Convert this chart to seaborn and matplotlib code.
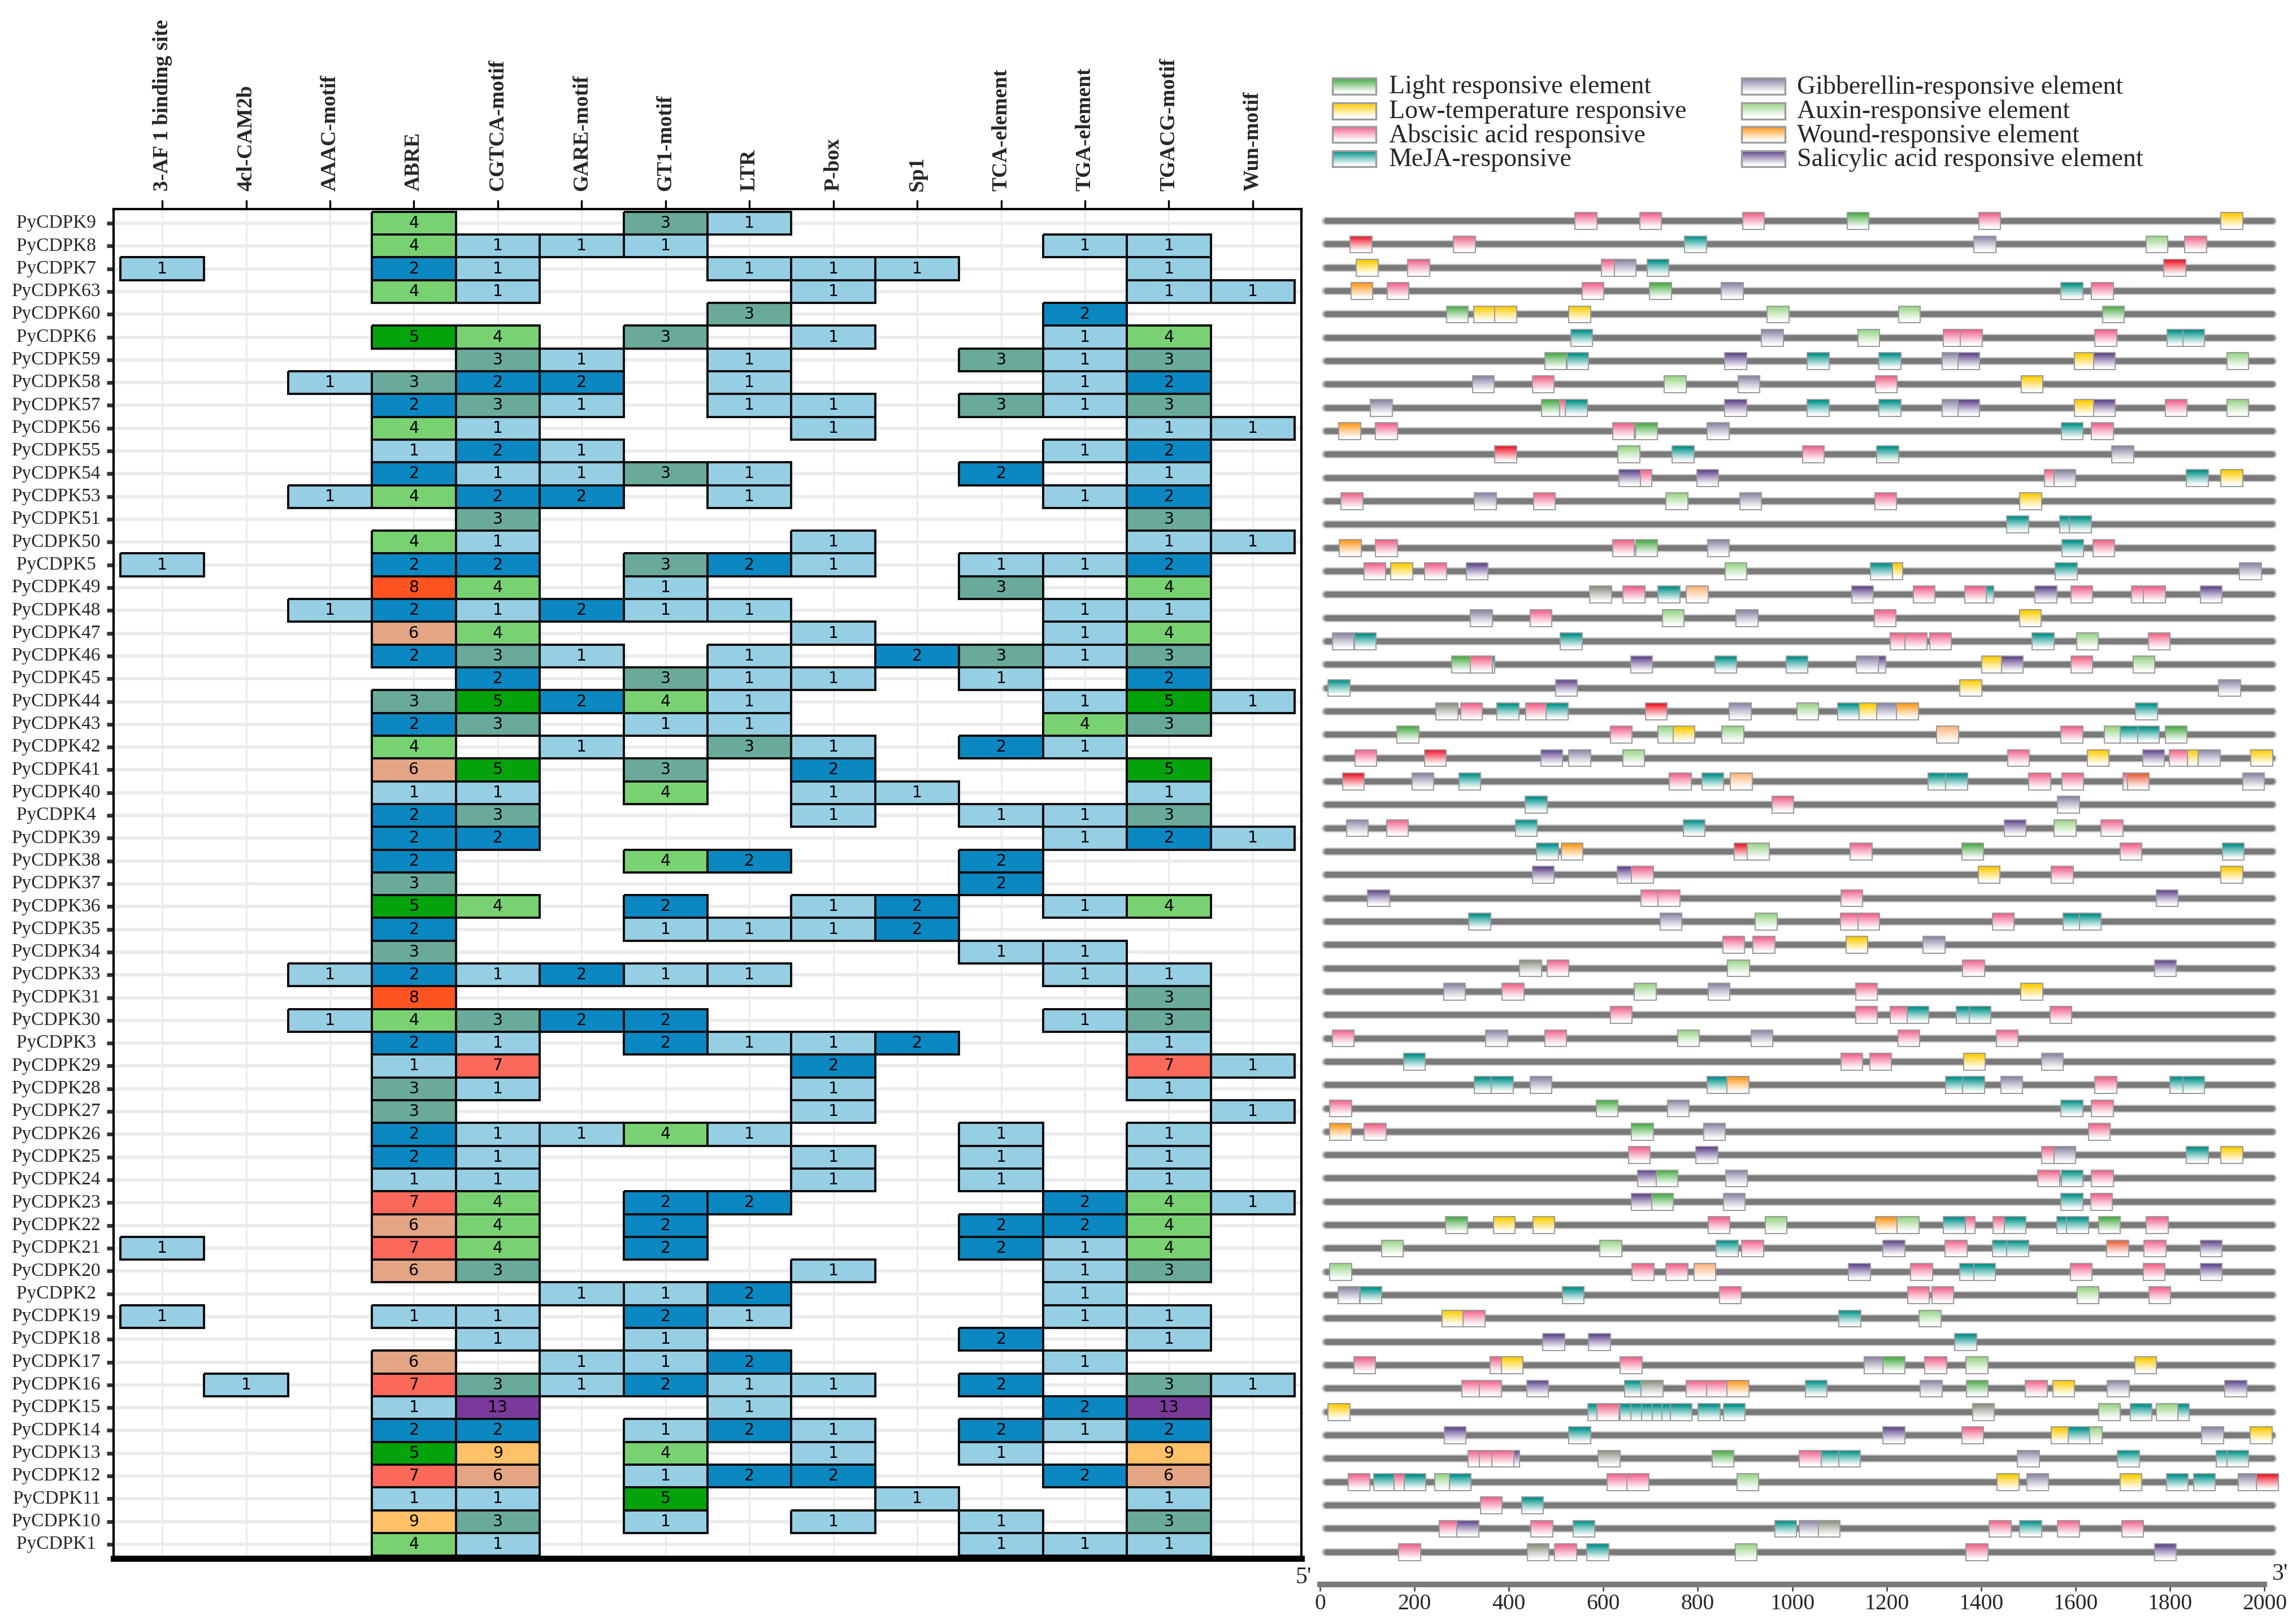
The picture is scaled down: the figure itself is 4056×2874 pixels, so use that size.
import numpy as np
import pandas as pd
import matplotlib
matplotlib.use("Agg")
import matplotlib.pyplot as plt
from matplotlib.colors import ListedColormap, BoundaryNorm, to_rgb
from matplotlib.patches import Rectangle
import seaborn as sns

# ---------------- data: heatmap of cis-element counts ----------------
genes = ["PyCDPK9 ", "PyCDPK8 ", "PyCDPK7 ", "PyCDPK63", "PyCDPK60", "PyCDPK6 ", "PyCDPK59", "PyCDPK58",
         "PyCDPK57", "PyCDPK56", "PyCDPK55", "PyCDPK54", "PyCDPK53", "PyCDPK51", "PyCDPK50", "PyCDPK5 ",
         "PyCDPK49", "PyCDPK48", "PyCDPK47", "PyCDPK46", "PyCDPK45", "PyCDPK44", "PyCDPK43", "PyCDPK42",
         "PyCDPK41", "PyCDPK40", "PyCDPK4 ", "PyCDPK39", "PyCDPK38", "PyCDPK37", "PyCDPK36", "PyCDPK35",
         "PyCDPK34", "PyCDPK33", "PyCDPK31", "PyCDPK30", "PyCDPK3 ", "PyCDPK29", "PyCDPK28", "PyCDPK27",
         "PyCDPK26", "PyCDPK25", "PyCDPK24", "PyCDPK23", "PyCDPK22", "PyCDPK21", "PyCDPK20", "PyCDPK2 ",
         "PyCDPK19", "PyCDPK18", "PyCDPK17", "PyCDPK16", "PyCDPK15", "PyCDPK14", "PyCDPK13", "PyCDPK12",
         "PyCDPK11", "PyCDPK10", "PyCDPK1 "]

elements = ["3-AF 1 binding site", "4cl-CAM2b", "AAAC-motif", "ABRE", "CGTCA-motif", "GARE-motif",
            "GT1-motif", "LTR", "P-box", "Sp1", "TCA-element", "TGA-element", "TGACG-motif", "Wun-motif"]

af1 = [0,0,1,0,0,0,0,0,0,0, 0,0,0,0,0,1,0,0,0,0, 0,0,0,0,0,0,0,0,0,0,
       0,0,0,0,0,0,0,0,0,0, 0,0,0,0,0,1,0,0,1,0, 0,0,0,0,0,0,0,0,0]
cam2b = [0,0,0,0,0,0,0,0,0,0, 0,0,0,0,0,0,0,0,0,0, 0,0,0,0,0,0,0,0,0,0,
         0,0,0,0,0,0,0,0,0,0, 0,0,0,0,0,0,0,0,0,0, 0,1,0,0,0,0,0,0,0]
aaac = [0,0,0,0,0,0,0,1,0,0, 0,0,1,0,0,0,0,1,0,0, 0,0,0,0,0,0,0,0,0,0,
        0,0,0,1,0,1,0,0,0,0, 0,0,0,0,0,0,0,0,0,0, 0,0,0,0,0,0,0,0,0]
abre = [4,4,2,4,0,5,0,3,2,4, 1,2,4,0,4,2,8,2,6,2, 0,3,2,4,6,1,2,2,2,3,
        5,2,3,2,8,4,2,1,3,3, 2,2,1,7,6,7,6,0,1,0, 6,7,1,2,5,7,1,9,4]
cgtca = [0,1,1,1,0,4,3,2,3,1, 2,1,2,3,1,2,4,1,4,3, 2,5,3,0,5,1,3,2,0,0,
         4,0,0,1,0,3,1,7,1,0, 1,1,1,4,4,4,3,0,1,1, 0,3,13,2,9,6,1,3,1]
gare = [0,1,0,0,0,0,1,2,1,0, 1,1,2,0,0,0,0,2,0,1, 0,2,0,1,0,0,0,0,0,0,
        0,0,0,2,0,2,0,0,0,0, 1,0,0,0,0,0,0,1,0,0, 1,1,0,0,0,0,0,0,0]
gt1 = [3,1,0,0,0,3,0,0,0,0, 0,3,0,0,0,3,1,1,0,0, 3,4,1,0,3,4,0,0,4,0,
       2,1,0,1,0,2,2,0,0,0, 4,0,0,2,2,2,0,1,2,1, 1,2,0,1,4,1,5,1,0]
ltr = [1,0,1,0,3,0,1,1,1,0, 0,1,1,0,0,2,0,1,0,1, 1,1,1,3,0,0,0,0,2,0,
       0,1,0,1,0,0,1,0,0,0, 1,0,0,2,0,0,0,2,1,0, 2,1,1,2,0,2,0,0,0]
pbox = [0,0,1,1,0,1,0,0,1,1, 0,0,0,0,1,1,0,0,1,0, 1,0,0,1,2,1,1,0,0,0,
        1,1,0,0,0,0,1,2,1,1, 0,1,1,0,0,0,1,0,0,0, 0,1,0,1,1,2,0,1,0]
sp1 = [0,0,1,0,0,0,0,0,0,0, 0,0,0,0,0,0,0,0,0,2, 0,0,0,0,0,1,0,0,0,0,
       2,2,0,0,0,0,2,0,0,0, 0,0,0,0,0,0,0,0,0,0, 0,0,0,0,0,0,1,0,0]
tca = [0,0,0,0,0,0,3,0,3,0, 0,2,0,0,0,1,3,0,0,3, 1,0,0,2,0,0,1,0,2,2,
       0,0,1,0,0,0,0,0,0,0, 1,1,1,0,2,2,0,0,0,2, 0,2,0,2,1,0,0,1,1]
tga = [0,1,0,0,2,1,1,1,1,0, 1,0,1,0,0,1,0,1,1,1, 0,1,4,1,0,0,1,1,0,0,
       1,0,1,1,0,1,0,0,0,0, 0,0,0,2,2,1,1,1,1,0, 1,0,2,1,0,2,0,0,1]
tgacg = [0,1,1,1,0,4,3,2,3,1, 2,1,2,3,1,2,4,1,4,3, 2,5,3,0,5,1,3,2,0,0,
         4,0,0,1,3,3,1,7,1,0, 1,1,1,4,4,4,3,0,1,1, 0,3,13,2,9,6,1,3,1]
wun = [0,0,0,1,0,0,0,0,0,1, 0,0,0,0,1,0,0,0,0,0, 0,1,0,0,0,0,0,1,0,0,
       0,0,0,0,0,0,0,1,0,1, 0,0,0,1,0,0,0,0,0,0, 0,1,0,0,0,0,0,0,0]

count_levels = [1, 2, 3, 4, 5, 6, 7, 8, 9, 13]
count_colors = ["#96CEE4", "#0B87C2", "#69AA9B", "#79D272", "#04A20B",
                "#E3A583", "#FA695A", "#FF5322", "#FFC167", "#7A3A9B"]

# ---------------- data: promoter element positions (bp) ----------------
site_pos = [
    [563, 700, 918, 1139, 1418, 1931],
    [87, 306, 795, 1408, 1772, 1854],
    [100, 209, 619, 646, 716, 1810],
    [89, 165, 578, 721, 873, 1592, 1657],
    [291, 349, 393, 550, 970, 1248, 1680],
    [554, 958, 1162, 1343, 1379, 1664, 1817, 1850],
    [499, 546, 880, 1055, 1207, 1340, 1374, 1620, 1661, 1943],
    [346, 473, 752, 908, 1199, 1508],
    [130, 492, 530, 543, 880, 1055, 1207, 1340, 1374, 1620, 1661, 1813, 1943],
    [63, 141, 643, 691, 843, 1593, 1657],
    [393, 654, 769, 1045, 1202, 1700],
    [679, 656, 821, 1557, 1577, 1858, 1931],
    [68, 350, 475, 756, 912, 1198, 1505],
    [1477, 1590, 1610],
    [64, 141, 643, 692, 844, 1594, 1660],
    [116, 173, 245, 333, 881, 1211, 1189, 1580, 1970],
    [594, 665, 739, 799, 1149, 1279, 1404, 1388, 1537, 1613, 1741, 1767, 1887],
    [342, 468, 748, 904, 1197, 1504],
    [49, 96, 532, 1231, 1262, 1314, 1531, 1625, 1777],
    [347, 302, 342, 681, 859, 1010, 1175, 1159, 1424, 1466, 1613, 1745],
    [40, 522, 1378, 1926],
    [269, 321, 398, 459, 502, 712, 890, 1033, 1119, 1165, 1202, 1244, 1750],
    [186, 638, 739, 771, 874, 1329, 1592, 1684, 1717, 1754, 1813],
    [97, 244, 491, 550, 664, 1479, 1648, 1765, 1822, 1860, 1883, 1994],
    [71, 218, 317, 763, 832, 892, 1311, 1348, 1524, 1594, 1724, 1733, 1977],
    [458, 980, 1585],
    [79, 164, 437, 792, 1472, 1578, 1677],
    [482, 534, 900, 928, 1146, 1382, 1717, 1934],
    [473, 652, 683, 1417, 1572, 1931],
    [124, 703, 739, 1126, 1794],
    [338, 743, 945, 1125, 1162, 1447, 1597, 1631],
    [876, 940, 1137, 1300],
    [446, 504, 886, 1384, 1790],
    [285, 409, 689, 845, 1157, 1507],
    [638, 1157, 1231, 1266, 1371, 1398, 1569],
    [49, 374, 499, 780, 936, 1247, 1455],
    [200, 1126, 1187, 1386, 1551],
    [350, 386, 468, 843, 885, 1348, 1384, 1465, 1664, 1823, 1850],
    [44, 608, 759, 1592, 1657],
    [43, 117, 683, 835, 1650],
    [676, 819, 1551, 1577, 1858, 1931],
    [696, 735, 882, 1543, 1593, 1657],
    [683, 725, 877, 1592, 1655],
    [289, 390, 474, 845, 966, 1199, 1245, 1364, 1343, 1448, 1472, 1583, 1604, 1672, 1773],
    [153, 616, 862, 916, 1215, 1347, 1447, 1477, 1689, 1768, 1887],
    [44, 684, 756, 815, 1142, 1274, 1378, 1407, 1612, 1766, 1887],
    [61, 108, 536, 869, 1267, 1319, 1626, 1778],
    [281, 326, 1122, 1292],
    [495, 592, 1367],
    [95, 383, 407, 659, 1175, 1215, 1304, 1391, 1748],
    [323, 361, 461, 668, 703, 799, 841, 885, 1051, 1294, 1392, 1517, 1575, 1690, 1939],
    [40, 590, 610, 659, 681, 704, 727, 747, 765, 824, 877, 1405, 1672, 1739, 1817, 1794],
    [286, 550, 1215, 1382, 1571, 1633, 1607, 1890, 1993],
    [399, 337, 361, 387, 612, 853, 1038, 1085, 1121, 1500, 1712, 1921, 1943],
    [83, 137, 180, 201, 266, 297, 631, 673, 906, 1457, 1520, 1717, 1815, 1873, 1967, 2006],
    [363, 450],
    [276, 313, 470, 559, 986, 1038, 1078, 1440, 1505, 1585, 1721],
    [190, 462, 520, 588, 902, 1391, 1790],
]
site_kind = [
    "aaalac", "ramgxa", "caagmr", "waalgma", "lcccxxl", "mgxaaamm", "lmsmmgscsx", "gaxgac",
    "glamsmmgscsax", "waalgma", "rxmamg", "assagmc", "agaxgac", "mmm", "waalgma", "acasxcmmg",
    "oampsamasaaas", "gaxgac", "gmmaaamxa", "mlasmmsgcsax", "mscg", "oamamrgxmcgwm",
    "laxcxpaxmml", "arsgxacsacgc", "rgmampmmaaatg", "mag", "gammsxa", "mwrxalam", "ssacac",
    "saaas", "mgxaaamm", "aacg", "oaxas", "gaxgac", "aaammma", "agaxgaa", "maacg",
    "mmgmwmmgamm", "algma", "walga", "asagmc", "slgama", "slgma", "lccaxwxamammmla",
    "xxmasammtas", "xaapsammaas", "gmmaaaxa", "camx", "ssm", "aacaglaxc",
    "aasmoaawmglacgs", "cmammmmmmmmoxmmx", "smsacxmgc", "saaaolammgmmm",
    "amamxmaaxcgcmmgr", "am", "asammgoamaa", "aoamxas",
]
kind_colors = {"l": "#4DAE4A", "c": "#FFCC00", "a": "#F2678C", "m": "#00928A",
               "g": "#8E8AA8", "x": "#9BD68A", "w": "#FF9A1F", "s": "#63488F",
               "r": "#EE1C2E", "o": "#8C9482", "p": "#FFB682", "t": "#EC5F3A"}
legend_kinds = ["l", "c", "a", "m", "g", "x", "w", "s"]
legend_labels = ["Light responsive element", "Low-temperature responsive",
                 "Abscisic acid responsive", "MeJA-responsive",
                 "Gibberellin-responsive element", "Auxin-responsive element",
                 "Wound-responsive element", "Salicylic acid responsive element"]
scale_ticks = [0, 200, 400, 600, 800, 1000, 1200, 1400, 1600, 1800, 2000]

# ---------------- figure ----------------
sns.set_theme(style="white")
SERIF = ["Liberation Serif", "DejaVu Serif"]
plt.rcParams["font.family"] = SERIF
W, H = 4056, 2874
fig = plt.figure(figsize=(W / 300, H / 300), dpi=300)

# ---- left: heatmap ----
df = pd.DataFrame({e: v for e, v in zip(elements,
                   [af1, cam2b, aaac, abre, cgtca, gare, gt1, ltr, pbox, sp1, tca, tga, tgacg, wun])},
                  index=genes)
axh = fig.add_axes([201 / W, (H - 2758) / H, (2303 - 201) / W, (2758 - 370) / H])
nr, nc = df.shape
for j in range(nc):
    axh.vlines(j + 0.5, -1, nr + 1, color="#e6e6e6", lw=0.6, zorder=0)
for i in range(nr):
    axh.hlines(i + 0.5, -1, nc + 1, color="#ebebeb", lw=1.4, zorder=0)

bounds = [0.5] + [l + 0.5 for l in count_levels]
cmap = ListedColormap(count_colors)
norm = BoundaryNorm(bounds, cmap.N)
sns.heatmap(df, mask=(df == 0), cmap=cmap, norm=norm, annot=True, fmt="g",
            annot_kws={"color": "black", "fontsize": 6.8,
                       "family": ["Liberation Sans Narrow", "DejaVu Sans"]},
            linewidths=0.9, linecolor="black", cbar=False, ax=axh,
            xticklabels=elements, yticklabels=genes)
mesh = axh.collections[-1]
mflat = (df.values == 0).ravel()
ec = np.zeros((mflat.size, 4))
ec[~mflat] = (0.05, 0.05, 0.05, 1.0)
mesh.set_edgecolor(ec)
mesh.set_zorder(2)
for t in axh.texts:
    t.set_zorder(3)

axh.set_xlim(-0.08, nc + 0.08)
axh.set_ylim(nr + 0.12, -0.12)
axh.xaxis.tick_top()
axh.xaxis.set_label_position("top")
axh.set_xlabel("")
axh.set_ylabel("")
for lab in axh.get_xticklabels():
    lab.set_rotation(90)
    lab.set_fontweight("bold")
    lab.set_fontsize(9)
    lab.set_family(SERIF)
    lab.set_ha("center")
    lab.set_va("bottom")
for lab in axh.get_yticklabels():
    lab.set_rotation(0)
    lab.set_fontsize(8)
    lab.set_family(SERIF)
axh.tick_params(axis="x", top=True, bottom=False, length=3.8, width=0.8, color="black", pad=4)
axh.tick_params(axis="y", left=True, length=3, width=1.6, color="#333333", pad=2.5)
for s in axh.spines.values():
    s.set_visible(True)
    s.set_color("black")
    s.set_linewidth(1.0)
axh.spines["bottom"].set_linewidth(2.6)

# ---- right: promoter diagram ----
axp = fig.add_axes([2320 / W, 0.0, 1730 / W, (H - 370) / H])


def gradient(color, n=48):
    rgb = np.array(to_rgb(color))
    t = np.linspace(0, 1, n)
    s = np.clip((t - 0.08) / 0.82, 0, 1) ** 0.9
    arr = rgb[None, :] * (1 - s[:, None]) + s[:, None]
    arr[:2] *= 0.88
    return arr[:, None, :]


grads = {k: gradient(c) for k, c in kind_colors.items()}
nrows_p = len(site_pos)
rows = np.arange(nrows_p)
axp.hlines(rows, 12, 2018, color="#c4c4c4", lw=3.4, zorder=1, capstyle="round")
axp.hlines(rows, 14, 2016, color="#7a7a7a", lw=2.4, zorder=1.5, capstyle="round")

bw, bh = 46, 0.72
z = 3.0
for r, (plist, kinds) in enumerate(zip(site_pos, site_kind)):
    for p, k in zip(plist, kinds):
        axp.imshow(grads[k], extent=(p - bw / 2, p + bw / 2, r + bh / 2, r - bh / 2),
                   aspect="auto", interpolation="bilinear", zorder=z)
        axp.add_patch(Rectangle((p - bw / 2, r - bh / 2), bw, bh, fill=False,
                                ec="#9c9c9c", lw=0.5, zorder=z + 0.0005))
        z += 0.001

axp.set_xlim(-19, 2051)
axp.set_ylim(60.08, -0.51)
for side in ["left", "right", "top"]:
    axp.spines[side].set_visible(False)
axp.spines["bottom"].set_position(("data", 58.38))
axp.spines["bottom"].set_bounds(0, 2000)
axp.spines["bottom"].set_color("#7a7a7a")
axp.spines["bottom"].set_linewidth(2.4)
axp.set_yticks([])
axp.set_xticks(scale_ticks)
axp.set_xticklabels([str(v) for v in scale_ticks], fontsize=9.5, family=SERIF)
axp.tick_params(axis="x", bottom=True, direction="out", length=2.8, width=0.7,
                color="#555555", pad=1.2)
axp.text(-35, 58.1, "5'", fontsize=10, ha="center", va="center", clip_on=False, family=SERIF)
axp.text(2016, 57.95, "3'", fontsize=10, ha="left", va="center", clip_on=False, family=SERIF)
axp.set_facecolor("none")

# ---- legend ----
axl = fig.add_axes([2350 / W, (H - 300) / H, 1550 / W, 180 / H])
axl.set_xlim(0, 1550)
axl.set_ylim(180, 0)
axl.axis("off")
row_y = [32, 76, 118, 161]
col_sw = [8, 732]
col_tx = [108, 830]
for i, (k, lab) in enumerate(zip(legend_kinds, legend_labels)):
    c, rr = divmod(i, 4)
    x0, y0 = col_sw[c], row_y[rr]
    axl.imshow(gradient(kind_colors[k]), extent=(x0, x0 + 77, y0 + 14.5, y0 - 14.5),
               aspect="auto", interpolation="bilinear", zorder=2)
    axl.add_patch(Rectangle((x0, y0 - 14.5), 77, 29, fill=False, ec="#9c9c9c", lw=0.8, zorder=3))
    axl.text(col_tx[c], y0 + 2, lab, fontsize=11, ha="left", va="center", family=SERIF)
axl.set_xlim(0, 1550)
axl.set_ylim(180, 0)

fig.savefig("out.png", dpi=300)
